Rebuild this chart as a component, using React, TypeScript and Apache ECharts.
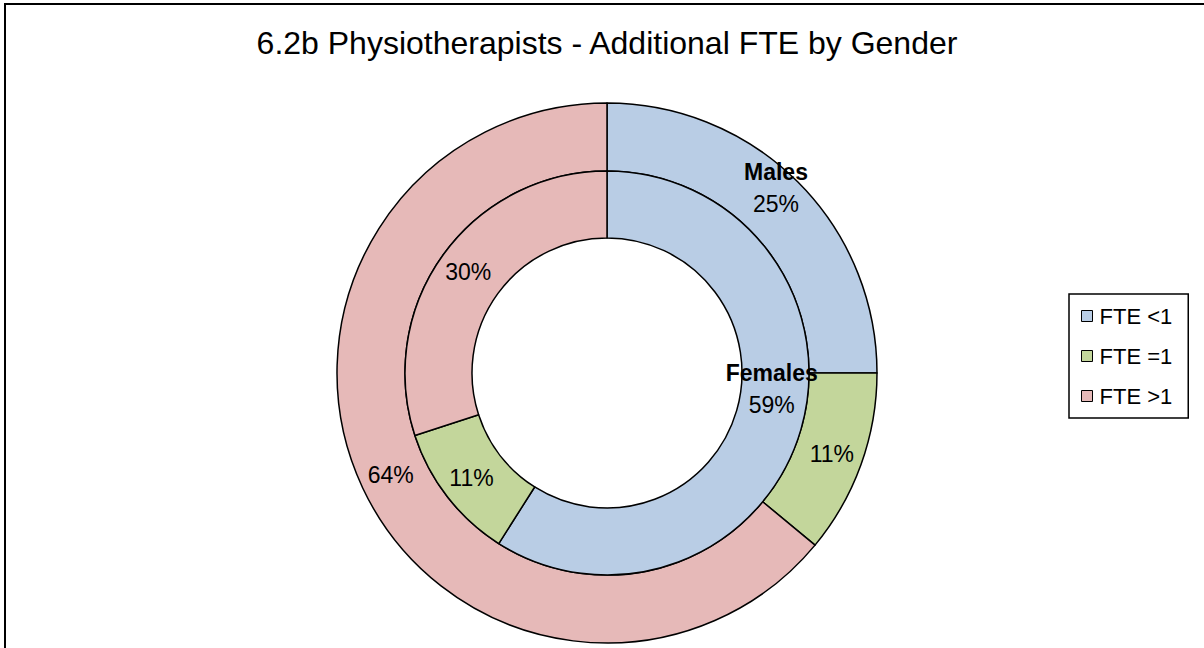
import React, { useEffect, useRef } from "react";
import * as echarts from "echarts";

const titleText = "6.2b Physiotherapists - Additional FTE by Gender";
const categories = ["FTE <1", "FTE =1", "FTE >1"];
const malesValues = [25, 11, 64];
const femalesValues = [59, 11, 30];
const colors = ["#B9CDE5", "#C3D69B", "#E6B9B8"];

const FONT = "'Liberation Sans', Arial, sans-serif";

function makeSeries(name: string, values: number[], radius: [number, number], padLines: number) {
  return {
    name,
    type: "pie",
    center: [607, 373],
    radius,
    startAngle: 90,
    clockwise: true,
    avoidLabelOverlap: false,
    labelLayout: { hideOverlap: false },
    emphasis: { disabled: true },
    itemStyle: { borderColor: "#000", borderWidth: 1.5 },
    label: {
      show: true,
      position: "inside",
      color: "#000",
      fontFamily: FONT,
      fontSize: 23,
      formatter: (p: any) =>
        p.dataIndex === 0
          ? `{n|${p.seriesName}}\n{v|${p.value}%}` + "\n{e| }".repeat(padLines)
          : `${p.value}%`,
      rich: {
        n: { fontFamily: FONT, fontSize: 23, fontWeight: "bold", color: "#000", lineHeight: 32 },
        v: { fontFamily: FONT, fontSize: 23, color: "#000", lineHeight: 32 },
        e: { fontFamily: FONT, fontSize: 10, color: "#000", lineHeight: 32 },
      },
    },
    labelLine: { show: false },
    data: categories.map((c, i) => ({ name: c, value: values[i], itemStyle: { color: colors[i] } })),
  };
}

export default function App() {
  const ref = useRef<HTMLDivElement>(null);
  useEffect(() => {
    if (!ref.current) return;
    const chart = echarts.init(ref.current, null, { renderer: "svg" });
    chart.setOption({
      animation: false,
      backgroundColor: "#fff",
      title: {
        text: titleText,
        left: 602,
        top: 22,
        textAlign: "center",
        textStyle: { fontFamily: FONT, fontSize: 32, fontWeight: "normal", color: "#000" },
      },
      legend: {
        orient: "vertical",
        left: 1069,
        top: 294,
        padding: [11, 16, 11, 12],
        itemGap: 18,
        itemWidth: 11,
        itemHeight: 11,
        icon: "rect",
        borderColor: "#000",
        borderWidth: 1.5,
        data: categories,
        selectedMode: false,
        itemStyle: { borderColor: "#000", borderWidth: 1 },
        textStyle: { fontFamily: FONT, fontSize: 22, color: "#000", padding: [0, 0, 0, 2] },
      },
      graphic: [
        {
          type: "rect",
          shape: { x: 5, y: 4, width: 1260, height: 700 },
          style: { fill: "none", stroke: "#000", lineWidth: 2 },
          silent: true,
        },
      ],
      series: [
        makeSeries("Males", malesValues, [202, 270], 1),
        makeSeries("Females", femalesValues, [135, 202], 2),
      ],
    });
    return () => chart.dispose();
  }, []);
  return (
    <div
      ref={ref}
      style={{ position: "fixed", left: 0, top: 0, width: 1204, height: 648 }}
    />
  );
}
